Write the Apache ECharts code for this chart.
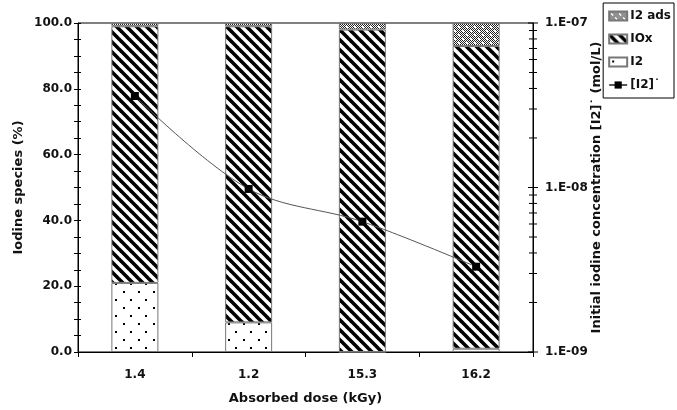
<!DOCTYPE html>
<html>
<head>
<meta charset="utf-8">
<script src="https://cdn.jsdelivr.net/npm/echarts@6/dist/echarts.min.js"></script>
<style>html,body{margin:0;padding:0;background:#fff}#c{width:677px;height:410px}</style>
</head>
<body>
<div id="c"></div>
<script>
// ---- data ----
var categories = ['1.4', '1.2', '15.3', '16.2'];
var i2Values = [21, 9, 0, 1];
var ioxValues = [78, 90, 98, 92];
var i2adsValues = [1, 1, 2, 7];
var i2InitConc = [3.6e-8, 9.8e-9, 6.2e-9, 3.3e-9];
var rightMajorTicks = [1e-9, 1e-8, 1e-7];
var rightMinorTicks = [2e-9,3e-9,4e-9,5e-9,6e-9,7e-9,8e-9,9e-9,2e-8,3e-8,4e-8,5e-8,6e-8,7e-8,8e-8,9e-8];

// ---- patterns ----
function makeCanvas(w, h) { var c = document.createElement('canvas'); c.width = w; c.height = h; return c; }
function hatchPattern() {
  var P = 10, c = makeCanvas(P, P), g = c.getContext('2d');
  g.fillStyle = '#fff'; g.fillRect(0, 0, P, P);
  g.strokeStyle = '#000'; g.lineWidth = 3.6;
  for (var k = -1; k <= 1; k++) {
    g.beginPath(); g.moveTo(k * P - 2, -2); g.lineTo(k * P + P + 2, P + 2); g.stroke();
  }
  return c;
}
function dotPattern() {
  var c = makeCanvas(15, 16), g = c.getContext('2d');
  g.fillStyle = '#fff'; g.fillRect(0, 0, 15, 16);
  g.fillStyle = '#000';
  g.fillRect(3, 3, 2, 2);
  g.fillRect(10, 11, 2, 2);
  return c;
}
function crossPattern() {
  var c = makeCanvas(8, 8), g = c.getContext('2d');
  g.fillStyle = '#fff'; g.fillRect(0, 0, 8, 8);
  g.fillStyle = '#222';
  for (var y = 0; y < 8; y++) for (var x = 0; x < 8; x++) if ((x + y) % 2 === 0) g.fillRect(x, y, 1, 1);
  g.fillStyle = '#fff';
  g.fillRect(2, 2, 2, 2); g.fillRect(6, 6, 2, 2);
  return c;
}
var hatch = { image: hatchPattern(), repeat: 'repeat' };
var dots = { image: dotPattern(), repeat: 'repeat' };
var cross = { image: crossPattern(), repeat: 'repeat' };

var FONT = 'DejaVu Sans';
var labelStyle = { fontFamily: FONT, fontWeight: 'bold', fontSize: 12, color: '#111' };
var nameStyle = { fontFamily: FONT, fontWeight: 'bold', fontSize: 13, color: '#111' };
var barBorder = { borderColor: '#777', borderWidth: 1 };

var chart = echarts.init(document.getElementById('c'), null, { renderer: 'canvas' });

var option = {
  animation: false,
  backgroundColor: '#fff',
  grid: { left: 78, right: 144, top: 23, bottom: 58, show: true, borderColor: '#000', borderWidth: 1, backgroundColor: 'transparent' },
  legend: {
    orient: 'vertical', right: 3, top: 3,
    borderColor: '#000', borderWidth: 1, padding: [7, 3, 7, 5],
    itemGap: 11, itemWidth: 18, itemHeight: 9,
    textStyle: { fontFamily: FONT, fontWeight: 'bold', fontSize: 12, color: '#111', padding: [0, 0, 0, -2] },
    data: [
      { name: 'I2 ads', icon: 'rect' },
      { name: 'IOx', icon: 'rect' },
      { name: 'I2', icon: 'rect' },
      { name: '[I2]*' }
    ],
    formatter: function (n) { return n === '[I2]*' ? '[I2]˙' : n; }
  },
  xAxis: {
    type: 'category', data: categories, boundaryGap: true,
    axisLine: { lineStyle: { color: '#000', width: 1 } },
    axisTick: { show: true, length: 5, lineStyle: { color: '#000' } },
    axisLabel: Object.assign({ margin: 17, interval: 0 }, labelStyle),
    name: 'Absorbed dose (kGy)', nameLocation: 'middle', nameGap: 40, nameMoveOverlap: false,
    nameTextStyle: nameStyle
  },
  yAxis: [
    {
      type: 'value', min: 0, max: 100, interval: 20, position: 'left',
      axisLine: { show: true, lineStyle: { color: '#000' } },
      axisTick: { show: true, length: 4, lineStyle: { color: '#000' } },
      minorTick: { show: true, splitNumber: 4, length: 4, lineStyle: { color: '#000' } },
      splitLine: { show: false },
      axisLabel: Object.assign({ margin: 6, formatter: function (v) { return v.toFixed(1); } }, labelStyle),
      name: 'Iodine species (%)', nameLocation: 'middle', nameGap: 53, nameRotate: 90, nameMoveOverlap: false,
      nameTextStyle: nameStyle
    },
    {
      type: 'log', logBase: 10, min: 1e-9, max: 1e-7, position: 'right',
      axisLine: { show: true, lineStyle: { color: '#000' } },
      axisTick: { show: false },
      splitLine: { show: false },
      axisLabel: Object.assign({ margin: 12, formatter: function (v) {
        var e = Math.round(Math.log10(v)); return '1.E-' + (Math.abs(e) < 10 ? '0' : '') + Math.abs(e);
      } }, labelStyle),
      name: 'Initial iodine concentration [I2]˙ (mol/L)', nameLocation: 'middle', nameGap: 57, nameRotate: 90, nameMoveOverlap: false,
      nameTextStyle: nameStyle
    },
    {
      type: 'value', min: 0, max: 100, interval: 20, position: 'left',
      axisLine: { show: false },
      axisTick: { show: true, inside: true, length: 3, lineStyle: { color: '#000' } },
      minorTick: { show: true, splitNumber: 4, length: 3, lineStyle: { color: '#000' } },
      splitLine: { show: false },
      axisLabel: { show: false }
    }
  ],
  series: [
    { name: 'I2', type: 'bar', stack: 's', data: i2Values, barWidth: 47,
      itemStyle: Object.assign({ color: dots }, barBorder), z: 2 },
    { name: 'IOx', type: 'bar', stack: 's', data: ioxValues, barWidth: 47,
      itemStyle: Object.assign({ color: hatch }, barBorder), z: 2 },
    { name: 'I2 ads', type: 'bar', stack: 's', data: i2adsValues, barWidth: 47,
      itemStyle: Object.assign({ color: cross }, barBorder), z: 2 },
    { name: '[I2]*', type: 'line', yAxisIndex: 1, data: i2InitConc, smooth: 0.35,
      symbol: 'rect', symbolSize: 8,
      lineStyle: { color: '#555', width: 1 },
      itemStyle: { color: '#000' }, z: 5 },
    { name: 'logTicks', type: 'custom', yAxisIndex: 1, silent: true, z: 6,
      data: rightMajorTicks.map(function (v) { return [0, v, 5]; }).concat(rightMinorTicks.map(function (v) { return [0, v, 4]; })),
      renderItem: function (params, api) {
        var cs = params.coordSys;
        var y = api.coord([0, api.value(1)])[1];
        var x = cs.x + cs.width;
        var L = api.value(2);
        return { type: 'line', shape: { x1: x - L, y1: y, x2: x + L, y2: y }, style: { stroke: '#000', lineWidth: 1 } };
      }
    }
  ]
};
chart.setOption(option);
</script>
</body>
</html>
